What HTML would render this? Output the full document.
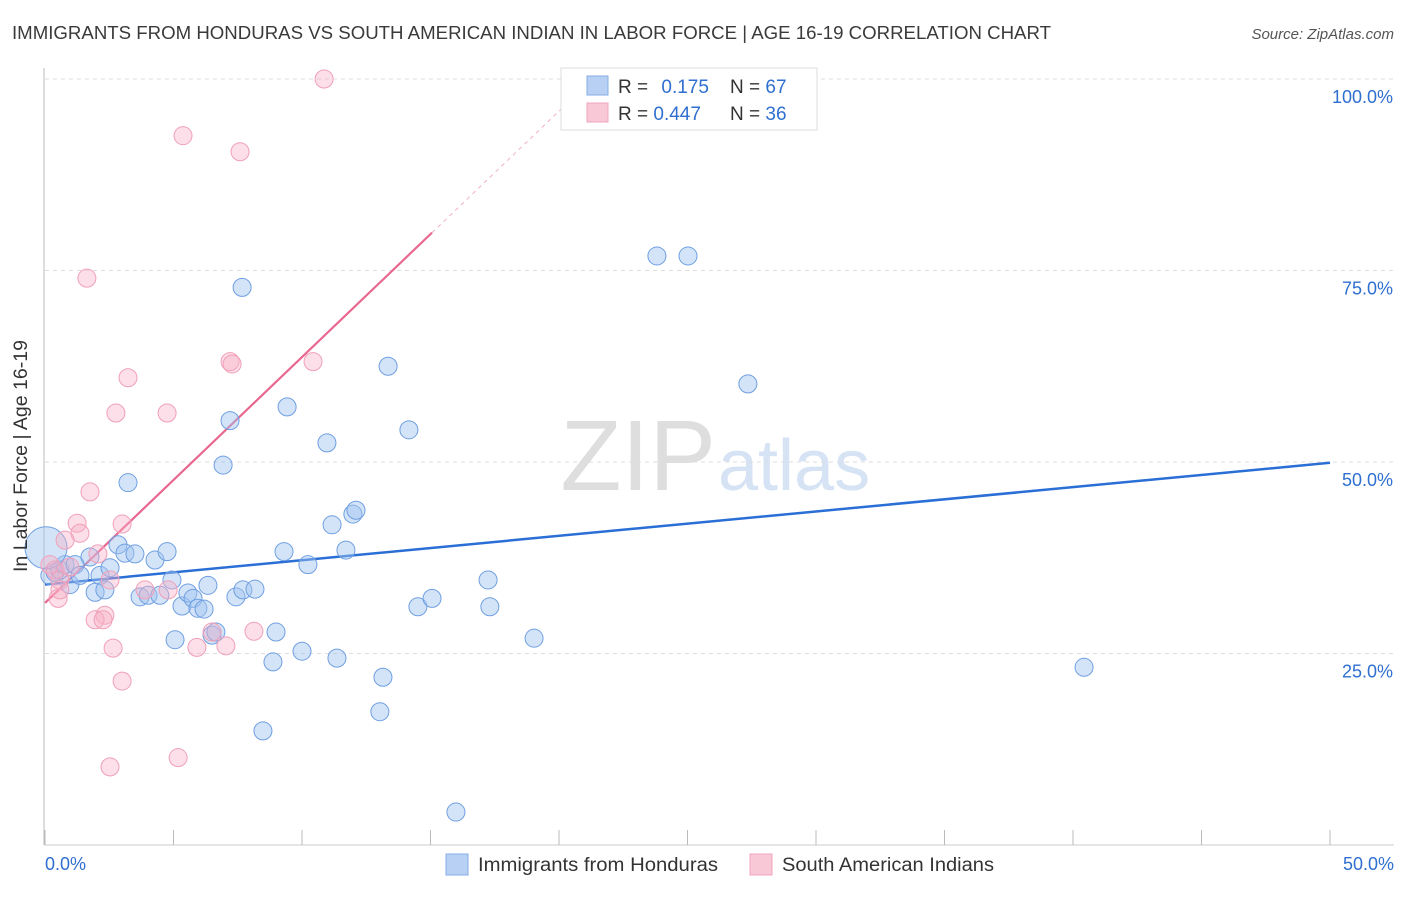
<!DOCTYPE html>
<html><head><meta charset="utf-8"><style>
body{margin:0;background:#fff;font-family:"Liberation Sans",sans-serif;}
svg text{font-family:"Liberation Sans",sans-serif;}
</style></head><body>
<svg width="1406" height="892" id="chart">
<text x="12" y="39" font-size="18" fill="#3a3a3a" textLength="1039" lengthAdjust="spacingAndGlyphs">IMMIGRANTS FROM HONDURAS VS SOUTH AMERICAN INDIAN IN LABOR FORCE | AGE 16-19 CORRELATION CHART</text>
<text x="1394" y="39" font-size="15" fill="#555" text-anchor="end" font-style="italic">Source: ZipAtlas.com</text>
<text x="716" y="490" font-size="100" fill="#dedede" text-anchor="end" font-family="Liberation Serif">ZIP</text>
<text x="718" y="490" font-size="72" fill="#d6e3f5">atlas</text>
<g id="grid"></g><g id="trend"></g><g id="pts"></g>
<text x="27" y="456" font-size="19" fill="#333" text-anchor="middle" transform="rotate(-90 27 456)" textLength="232" lengthAdjust="spacingAndGlyphs">In Labor Force | Age 16-19</text>
<g>
<rect x="561" y="68" width="256" height="62" fill="#fff" stroke="#ddd"/>
<rect x="587" y="76" width="21" height="19" fill="#b7d0f3" stroke="#86aee6"/>
<rect x="587" y="103" width="21" height="19" fill="#f8c8d6" stroke="#f0a6bd"/>
<text x="618" y="93" font-size="19" fill="#333">R = <tspan fill="#2f6fd0" dx="8">0.175</tspan></text>
<text x="730" y="93" font-size="19" fill="#333">N = <tspan fill="#2f6fd0">67</tspan></text>
<text x="618" y="120" font-size="19" fill="#333">R = <tspan fill="#2f6fd0">0.447</tspan></text>
<text x="730" y="120" font-size="19" fill="#333">N = <tspan fill="#2f6fd0">36</tspan></text>
</g>
<g>
<rect x="446" y="854" width="22" height="21" fill="#b7d0f3" stroke="#86aee6"/>
<text x="478" y="871" font-size="19" fill="#333" textLength="240" lengthAdjust="spacingAndGlyphs">Immigrants from Honduras</text>
<rect x="750" y="854" width="22" height="21" fill="#f8c8d6" stroke="#f0a6bd"/>
<text x="782" y="871" font-size="19" fill="#333" textLength="212" lengthAdjust="spacingAndGlyphs">South American Indians</text>
</g>
</svg>
<script>
const yTicks=[25,50,75,100];
const yTickLabels=["25.0%","50.0%","75.0%","100.0%"];
const xTickLabels=["0.0%","50.0%"];
const blueX=[0.19,0.39,0.58,0.78,0.97,1.17,1.36,1.75,1.95,2.14,2.33,2.53,2.84,3.11,3.23,3.5,3.7,4.01,4.28,4.47,4.75,4.94,5.06,5.33,5.56,5.76,5.95,6.19,6.34,6.5,6.65,6.93,7.2,7.43,7.67,7.7,8.17,8.48,8.87,8.99,9.3,9.42,10.0,10.23,10.97,11.17,11.36,11.71,11.98,12.1,13.03,13.15,13.35,14.16,14.51,15.06,15.99,17.24,17.31,19.03,23.81,25.02,27.35,40.43,0.04];
const blueY=[35.2,35.6,35.9,36.6,34.0,36.6,35.2,37.6,33.0,35.2,33.3,36.2,39.2,38.1,47.3,38.0,32.4,32.6,37.2,32.6,38.3,34.6,26.8,31.2,32.9,32.2,30.9,30.8,33.9,27.4,27.8,49.6,55.4,32.4,72.8,33.3,33.4,14.9,23.9,27.8,38.3,57.2,25.3,36.6,52.5,41.8,24.4,38.5,43.2,43.7,17.4,21.9,62.5,54.2,31.1,32.2,4.3,34.6,31.1,27.0,76.9,76.9,60.2,23.2,38.8];
const pinkX=[10.86,5.37,7.59,1.63,7.2,7.28,10.43,3.23,2.76,4.75,1.75,1.25,1.36,3.0,0.78,2.06,0.19,0.39,0.58,0.51,0.97,3.89,2.33,1.95,2.26,2.65,3.0,2.53,5.18,5.91,6.5,7.04,8.13,4.79,0.58,2.53];
const pinkY=[100,92.6,90.5,74.0,63.1,62.8,63.1,61.0,56.4,56.4,46.1,42.0,40.7,41.9,39.8,38.0,36.6,35.9,34.6,32.2,36.3,33.3,30.0,29.4,29.4,25.7,21.4,10.2,11.4,25.8,27.8,26.0,27.9,33.3,33.3,34.6];
const blueTrend=[34.0,49.9];
const pinkTrend=[31.6,3.21];
const NS="http://www.w3.org/2000/svg";
const X=v=>45+v/50*1285, Y=v=>845-v/100*766;
function mk(t,a,p){const e=document.createElementNS(NS,t);for(const k in a)e.setAttribute(k,a[k]);p.appendChild(e);return e;}
const grid=document.getElementById('grid');
yTicks.forEach((t,i)=>{
 const l=mk('line',{x1:45,x2:1394,y1:Y(t),y2:Y(t),stroke:'#ddd','stroke-dasharray':'4,4'},grid);
 
 
 const tx=mk('text',{x:1393,y:Y(t)+24,'font-size':18,fill:'#2f6fd0','text-anchor':'end'},grid);
 tx.textContent=yTickLabels[i];
 
 
});
mk('line',{x1:44,x2:44,y1:68,y2:845,stroke:'#bbb'},grid);
mk('line',{x1:44,x2:1394,y1:845,y2:845,stroke:'#ccc'},grid);
for(let i=0;i<=10;i++){const l=mk('line',{x1:X(i*5),x2:X(i*5),y1:830,y2:845,stroke:'#bbb'},grid);
 
 }
[[0,'start',45],[50,'end',1394]].forEach((d,i)=>{const t=mk('text',{x:d[2],y:870,'font-size':18,fill:'#2f6fd0','text-anchor':d[1]},grid);t.textContent=xTickLabels[i];
 
 });
const pts=document.getElementById('pts');
blueX.forEach((x,i)=>{const big=i===blueX.length-1;const c=mk('circle',{cx:X(x),cy:Y(blueY[i]),r:big?21:9,fill:'rgba(160,195,240,0.45)',stroke:'#6f9fe2','stroke-width':1},pts);
 
 });
pinkX.forEach((x,i)=>{const c=mk('circle',{cx:X(x),cy:Y(pinkY[i]),r:9,fill:'rgba(248,175,198,0.4)',stroke:'#f0a0b9','stroke-width':1},pts);
 
 });
const tr=document.getElementById('trend');
const bl=mk('line',{x1:X(0),y1:Y(blueTrend[0]),x2:X(50),y2:Y(blueTrend[1]),stroke:'#2a6fd6','stroke-width':2.5},tr);


const pe=15.06, pd=(100-pinkTrend[0])/pinkTrend[1];
const pl=mk('line',{x1:X(0),y1:Y(pinkTrend[0]),x2:X(pe),y2:Y(pinkTrend[0]+pinkTrend[1]*pe),stroke:'#e8678f','stroke-width':2.2},tr);


const pdl=mk('line',{x1:X(pe),y1:Y(pinkTrend[0]+pinkTrend[1]*pe),x2:X(pd),y2:Y(100),stroke:'#f0b0c4','stroke-width':1,'stroke-dasharray':'4,4'},tr);


</script>
</body></html>
